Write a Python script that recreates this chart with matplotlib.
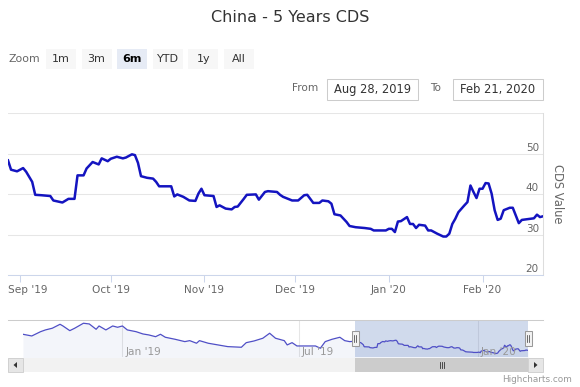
import matplotlib
matplotlib.use("Agg")
import matplotlib.pyplot as plt
import matplotlib.dates as mdates
import matplotlib.transforms as mtransforms
from matplotlib.patches import Rectangle, Polygon
import pandas as pd

W, H = 580, 387

# visible range (main chart)
dates = [
    "2019-08-28", "2019-08-29", "2019-08-31", "2019-09-02", "2019-09-03", "2019-09-05",
    "2019-09-06", "2019-09-08", "2019-09-11", "2019-09-12", "2019-09-15", "2019-09-17",
    "2019-09-19", "2019-09-20", "2019-09-22", "2019-09-23", "2019-09-25", "2019-09-27",
    "2019-09-28", "2019-09-30", "2019-10-01", "2019-10-03", "2019-10-05", "2019-10-06",
    "2019-10-08", "2019-10-09", "2019-10-10", "2019-10-11", "2019-10-13", "2019-10-15",
    "2019-10-16", "2019-10-17", "2019-10-20", "2019-10-21", "2019-10-22", "2019-10-23",
    "2019-10-25", "2019-10-27", "2019-10-29", "2019-10-30", "2019-10-31", "2019-11-01",
    "2019-11-04", "2019-11-05", "2019-11-06", "2019-11-08", "2019-11-10", "2019-11-11",
    "2019-11-12", "2019-11-14", "2019-11-15", "2019-11-18", "2019-11-19", "2019-11-21",
    "2019-11-22", "2019-11-25", "2019-11-26", "2019-11-27", "2019-11-30", "2019-12-02",
    "2019-12-04", "2019-12-05", "2019-12-06", "2019-12-07", "2019-12-09", "2019-12-10",
    "2019-12-12", "2019-12-13", "2019-12-14", "2019-12-16", "2019-12-18", "2019-12-19",
    "2019-12-21", "2019-12-24", "2019-12-26", "2019-12-27", "2019-12-31", "2020-01-01",
    "2020-01-02", "2020-01-03", "2020-01-04", "2020-01-05", "2020-01-07", "2020-01-08",
    "2020-01-09", "2020-01-10", "2020-01-11", "2020-01-13", "2020-01-14", "2020-01-15",
    "2020-01-17", "2020-01-19", "2020-01-20", "2020-01-21", "2020-01-22", "2020-01-23",
    "2020-01-24", "2020-01-26", "2020-01-27", "2020-01-28", "2020-01-29", "2020-01-30",
    "2020-01-31", "2020-02-01", "2020-02-02", "2020-02-03", "2020-02-04", "2020-02-05",
    "2020-02-06", "2020-02-07", "2020-02-08", "2020-02-10", "2020-02-11", "2020-02-12",
    "2020-02-13", "2020-02-14", "2020-02-17", "2020-02-18", "2020-02-19", "2020-02-20",
    "2020-02-21",
]
values = [
    48.3, 46.0, 45.6, 46.4, 45.5, 43.0,
    39.8, 39.7, 39.5, 38.4, 37.9, 38.8,
    38.8, 44.6, 44.6, 46.3, 47.9, 47.3,
    48.8, 48.1, 48.7, 49.2, 48.8, 49.0,
    49.8, 49.6, 47.7, 44.4, 44.0, 43.8,
    43.0, 41.9, 41.9, 41.9, 39.4, 39.9,
    39.3, 38.4, 38.3, 40.1, 41.3, 39.7,
    39.5, 36.8, 37.2, 36.4, 36.2, 36.8,
    36.9, 38.8, 39.8, 39.9, 38.6, 40.5,
    40.7, 40.5, 39.8, 39.3, 38.4, 38.4,
    39.7, 39.8, 38.8, 37.8, 37.8, 38.4,
    38.2, 37.6, 35.0, 34.7, 33.1, 32.1,
    31.8, 31.6, 31.4, 31.0, 31.0, 31.4,
    31.4, 30.6, 33.2, 33.3, 34.3, 32.6,
    32.6, 31.6, 32.4, 32.2, 31.0, 31.0,
    30.2, 29.5, 29.5, 30.2, 32.6, 33.9,
    35.5, 37.2, 38.0, 42.1, 40.5, 39.0,
    41.3, 41.3, 42.7, 42.6, 40.1, 36.0,
    33.6, 33.9, 36.0, 36.6, 36.6, 34.7,
    32.8, 33.6, 33.9, 34.0, 34.9, 34.3,
    34.5,
]

# earlier history, only seen in the navigator
hist_dates = [
    "2018-09-21", "2018-09-30", "2018-10-09", "2018-10-14", "2018-10-21", "2018-10-29",
    "2018-11-01", "2018-11-08", "2018-11-13", "2018-11-22", "2018-11-28", "2018-12-05",
    "2018-12-08", "2018-12-15", "2018-12-22", "2018-12-27", "2019-01-01", "2019-01-06",
    "2019-01-15", "2019-01-22", "2019-01-28", "2019-02-04", "2019-02-09", "2019-02-14",
    "2019-02-24", "2019-03-06", "2019-03-11", "2019-03-18", "2019-03-21", "2019-03-30",
    "2019-04-09", "2019-04-19", "2019-05-03", "2019-05-08", "2019-05-16", "2019-05-25",
    "2019-06-01", "2019-06-07", "2019-06-16", "2019-06-19", "2019-06-24", "2019-06-29",
    "2019-07-10", "2019-07-18", "2019-07-23", "2019-07-28", "2019-08-04", "2019-08-12",
    "2019-08-17", "2019-08-22",
]
hist_values = [
    59.0, 56.4, 63.0, 65.7, 68.3, 74.4,
    71.8, 64.6, 68.3, 76.0, 74.9, 66.7,
    71.8, 65.7, 71.8, 69.8, 71.8, 65.7,
    63.0, 59.5, 58.0, 55.3, 59.0, 54.4,
    51.3, 47.7, 49.2, 45.2, 49.2, 45.2,
    42.6, 40.0, 39.0, 46.1, 48.7, 52.9,
    60.6, 52.9, 49.2, 42.6, 46.1, 41.0,
    41.0, 41.0, 37.5, 47.7, 51.3, 54.4,
    49.2, 47.7,
]

y_grid = [20, 30, 40, 50, 60]
y_labels = [20, 30, 40, 50]
zoom_buttons = ["1m", "3m", "6m", "YTD", "1y", "All"]
selected = "6m"
title = "China - 5 Years CDS"

LINE = "#1414c0"
FONT = "DejaVu Sans"
plt.rcParams["font.family"] = FONT


def box(x0, y0, x1, y1):
    return [x0 / W, 1 - y1 / H, (x1 - x0) / W, (y1 - y0) / H]


main_x = pd.to_datetime(dates)
nav_x = pd.to_datetime(hist_dates + dates)
nav_y = hist_values + values

fig = plt.figure(figsize=(W / 100, H / 100), dpi=100)

# ---- main chart
ax = fig.add_axes(box(8, 113, 543, 275))
ax.plot(main_x, values, color=LINE, lw=1.8, solid_joinstyle="round")
ax.set_xlim(main_x[0], main_x[-1])
ax.set_ylim(y_grid[0], y_grid[-1])
ax.set_yticks(y_grid)
ax.yaxis.grid(True, color="#e6e6e6", lw=0.75)
ax.set_axisbelow(True)
ax.tick_params(axis="y", length=0, labelleft=False)
for s in ["top", "left"]:
    ax.spines[s].set_visible(False)
ax.spines["bottom"].set_color("#ccd6eb")
ax.spines["bottom"].set_linewidth(0.75)
ax.spines["right"].set_color("#dddddd")
ax.spines["right"].set_linewidth(0.75)
ax.xaxis.set_major_locator(mdates.MonthLocator())
ax.xaxis.set_major_formatter(mdates.DateFormatter("%b '%y"))
ax.tick_params(axis="x", length=5, width=0.75, color="#ccd6eb",
               labelsize=7.6, labelcolor="#666666", pad=2)
# first label is pushed right so it stays inside the chart, like highcharts does
first = ax.xaxis.get_major_ticks()[0].label1
first.set_transform(first.get_transform()
                    + mtransforms.ScaledTranslation(5.5 / 72, 0, fig.dpi_scale_trans))

ylab_tr = mtransforms.blended_transform_factory(ax.transAxes, ax.transData)
off = mtransforms.ScaledTranslation(-3 / 72, 4 / 72, fig.dpi_scale_trans)
for v in y_labels:
    ax.text(1, v, str(v), transform=ylab_tr + off, ha="right", va="center",
            fontsize=7.5, color="#666666")

# ---- navigator
nav = fig.add_axes(box(23, 320, 528, 357))
nav.fill_between(nav_x, nav_y, 0, color="#335cad", alpha=0.06, lw=0)
nav.plot(nav_x, nav_y, color="#4f4fc6", lw=0.9)
nav.set_xlim(nav_x[0], nav_x[-1])
nav.set_ylim(24, 81)
nav.axvspan(main_x[0], main_x[-1], color="#6685c2", alpha=0.3, lw=0)
nav.xaxis.set_major_locator(mdates.MonthLocator(bymonth=[1, 7]))
nav.xaxis.grid(True, color="#e6e6e6", lw=0.75)
nav.set_axisbelow(True)
nav.set_yticks([])
nav.tick_params(axis="x", length=0, labelbottom=False)
for s in nav.spines.values():
    s.set_visible(False)
nav_tr = mtransforms.blended_transform_factory(nav.transData, nav.transAxes)
nav_off = mtransforms.ScaledTranslation(2 / 72, 0, fig.dpi_scale_trans)
for t in nav.get_xticks():
    nav.text(t, 0.13, mdates.num2date(t).strftime("%b '%y"), transform=nav_tr + nav_off,
             ha="left", va="center", fontsize=7.6, color="#999999")

# ---- overlay in pixel coordinates
ov = fig.add_axes([0, 0, 1, 1])
ov.set_xlim(0, W)
ov.set_ylim(H, 0)
ov.axis("off")

ov.text(290, 17, title, ha="center", va="center", fontsize=11.5, color="#333333")

ov.text(24, 59, "Zoom", ha="center", va="center", fontsize=7.8, color="#666666")
for i, lab in enumerate(zoom_buttons):
    cx = 61 + 35.6 * i
    sel = lab == selected
    ov.add_patch(Rectangle((cx - 15, 49), 30, 20, fc="#e6ebf5" if sel else "#f7f7f7", ec="none"))
    ov.text(cx, 59, lab, ha="center", va="center", fontsize=8,
            color="#000000" if sel else "#333333", fontweight="bold" if sel else "normal")

ov.text(305, 88, "From", ha="center", va="center", fontsize=7.6, color="#666666")
ov.add_patch(Rectangle((327, 79), 91, 21, fc="white", ec="#cccccc", lw=0.75))
ov.text(372.5, 89, main_x[0].strftime("%b %d, %Y"), ha="center", va="center",
        fontsize=8.3, color="#333333")
ov.text(436, 88, "To", ha="center", va="center", fontsize=7.6, color="#666666")
ov.add_patch(Rectangle((453, 79), 90, 21, fc="white", ec="#cccccc", lw=0.75))
ov.text(498, 89, main_x[-1].strftime("%b %d, %Y"), ha="center", va="center",
        fontsize=8.3, color="#333333")

ov.text(558, 194, "CDS Value", rotation=270, ha="center", va="center",
        fontsize=8.3, color="#666666")

# navigator outline
ov.plot([8, 543], [320, 320], color="#cccccc", lw=0.75)

# selected range in pixels
n0, n1 = mdates.date2num(nav_x[0]), mdates.date2num(nav_x[-1])
def nav_px(t):
    return 23 + 505 * (mdates.date2num(t) - n0) / (n1 - n0)
hx0, hx1 = nav_px(main_x[0]), nav_px(main_x[-1])

# scrollbar
ov.add_patch(Rectangle((8, 358), 535, 14, fc="#f2f2f2", ec="none"))
ov.add_patch(Rectangle((hx0, 358), hx1 - hx0, 14, fc="#cccccc", ec="none"))
for dx in (-2, 0, 2):
    ov.plot([(hx0 + hx1) / 2 + dx] * 2, [362, 368], color="#333333", lw=0.6)
for bx, d in ((8, -1), (528, 1)):
    ov.add_patch(Rectangle((bx, 358), 15, 14, fc="#e6e6e6", ec="#cccccc", lw=0.6))
    c = bx + 7.5
    ov.add_patch(Polygon([(c + 2 * d, 365), (c - 1.5 * d, 362), (c - 1.5 * d, 368)],
                         closed=True, fc="#333333", ec="none"))

# handles
for hx in (hx0, hx1):
    ov.add_patch(Rectangle((hx - 3.5, 331), 7, 15, fc="#f2f2f2", ec="#999999", lw=0.75))
    for dx in (-1, 1):
        ov.plot([hx + dx] * 2, [335, 342], color="#333333", lw=0.5)

ov.text(572, 380, "Highcharts.com", ha="right", va="center", fontsize=6.4, color="#999999")

fig.savefig("out.png", dpi=100)
